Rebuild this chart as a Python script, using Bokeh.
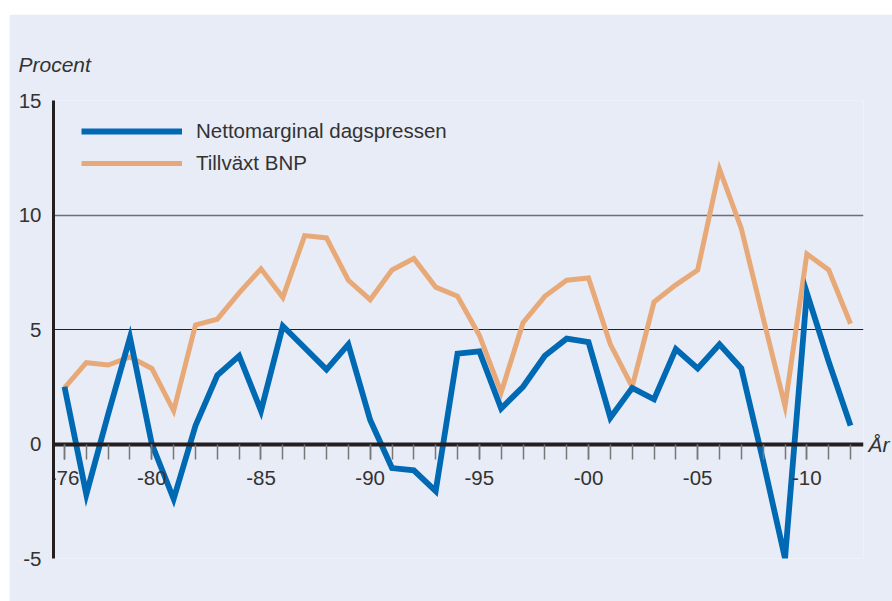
from bokeh.plotting import figure
from bokeh.models import (Range1d, FixedTicker, Grid, Legend, LegendItem, LinearAxis)
from bokeh.embed import file_html
from bokeh.resources import INLINE

years = list(range(1976, 2013))
netto = [2.5, -2.2, 1.3, 4.65, 0.0, -2.4, 0.8, 3.0, 3.85, 1.45,
         5.15, 4.2, 3.25, 4.35, 1.05, -1.05, -1.15, -2.06, 3.95, 4.05,
         1.55, 2.5, 3.85, 4.6, 4.45, 1.15, 2.45, 1.95, 4.15, 3.3,
         4.35, 3.3, -0.75, -5.0, 6.6, 3.6, 0.8]
bnp = [2.45, 3.55, 3.45, 3.8, 3.3, 1.45, 5.2, 5.45, 6.6, 7.65,
       6.4, 9.1, 9.0, 7.15, 6.3, 7.6, 8.1, 6.85, 6.45, 4.75,
       2.25, 5.3, 6.45, 7.15, 7.25, 4.35, 2.5, 6.2, 6.95, 7.6,
       12.0, 9.4, 5.5, 1.65, 8.3, 7.6, 5.25]
series_names = ["Nettomarginal dagspressen", "Tillväxt BNP"]
y_ticks = [-5, 0, 5, 10, 15]
y_tick_labels = ["-5", "0", "5", "10", "15"]
x_major = [1976, 1980, 1985, 1990, 1995, 2000, 2005, 2010]
x_labels = ["-76", "-80", "-85", "-90", "-95", "-00", "-05", "-10"]
y_label = "Procent"
x_label = "År"

BG = "#e8ecf6"
BLUE = "#0069b4"
ORANGE = "#e8a978"
TXT = "#333333"
FONT = "Liberation Sans"
FS = "20.5px"

x0, x1 = 1975.497, 2012.594
p = figure(width=883, height=587, output_backend="svg", toolbar_location=None,
           x_range=Range1d(x0, x1), y_range=Range1d(-5, 15),
           background_fill_color=BG, border_fill_color=BG,
           min_border_left=44, min_border_right=27, min_border_top=86,
           min_border_bottom=43)
p.margin = (14, 0, 0, 9)
p.outline_line_color = None
p.xgrid.visible = False
p.ygrid.visible = False

p.title.text = y_label
p.title.text_font = FONT
p.title.text_font_style = "italic"
p.title.text_font_size = "21px"
p.title.text_color = TXT
p.title.align = "left"
p.title.offset = -35
p.title.standoff = 50

# grids
p.add_layout(Grid(dimension=1, ticker=FixedTicker(ticks=[10, 15]),
                  grid_line_color="#6e6e76", grid_line_width=1.6))
p.add_layout(Grid(dimension=1, ticker=FixedTicker(ticks=[-5, 5]),
                  grid_line_color="#231f20", grid_line_width=1.2))

# y axis
ya = p.yaxis[0]
ya.ticker = FixedTicker(ticks=y_ticks)
ya.major_label_overrides = {t: l for t, l in zip(y_ticks, y_tick_labels)}
ya.bounds = (-5, 15)
ya.axis_line_width = 3
ya.axis_line_color = "#231f20"
ya.major_tick_line_color = None
ya.minor_tick_line_color = None
ya.major_tick_out = 0
ya.major_label_standoff = 12
ya.major_label_text_font = FONT
ya.major_label_text_font_size = FS
ya.major_label_text_color = TXT

# "År" as a label on a right-hand axis at y = 0
ra = LinearAxis(ticker=FixedTicker(ticks=[0]),
                major_label_overrides={0: x_label},
                axis_line_color=None, major_tick_line_color=None,
                minor_tick_line_color=None, major_tick_out=0,
                major_label_standoff=5,
                major_label_text_font=FONT, major_label_text_font_style="italic",
                major_label_text_font_size="21px", major_label_text_color=TXT)
p.add_layout(ra, "right")

# x axis at zero
xa = p.xaxis[0]
xa.fixed_location = 0
xa.ticker = FixedTicker(ticks=x_major, minor_ticks=years)
xa.major_label_overrides = {y: l for y, l in zip(x_major, x_labels)}
xa.axis_line_width = 4
xa.axis_line_color = "#231f20"
xa.major_tick_out = 15
xa.major_tick_in = 0
xa.minor_tick_out = 15
xa.minor_tick_in = 0
xa.major_tick_line_color = "#77777a"
xa.minor_tick_line_color = "#77777a"
xa.major_tick_line_width = 1.5
xa.minor_tick_line_width = 1.5
xa.major_label_standoff = 12
xa.major_label_text_font = FONT
xa.major_label_text_font_size = FS
xa.major_label_text_color = TXT

r2 = p.line(years, bnp, line_color=ORANGE, line_width=5, line_join="miter")
r1 = p.line(years, netto, line_color=BLUE, line_width=5.8, line_join="miter")

legend = Legend(items=[LegendItem(label=series_names[0], renderers=[r1]),
                       LegendItem(label=series_names[1], renderers=[r2])],
                location=(28, 380), orientation="vertical",
                glyph_width=101, glyph_height=30, label_height=30,
                label_standoff=14, spacing=2, padding=0, margin=0,
                background_fill_alpha=0, border_line_alpha=0,
                label_text_font=FONT, label_text_font_size=FS,
                label_text_color=TXT)
p.add_layout(legend)

open("out.html", "w").write(file_html(p, INLINE))
